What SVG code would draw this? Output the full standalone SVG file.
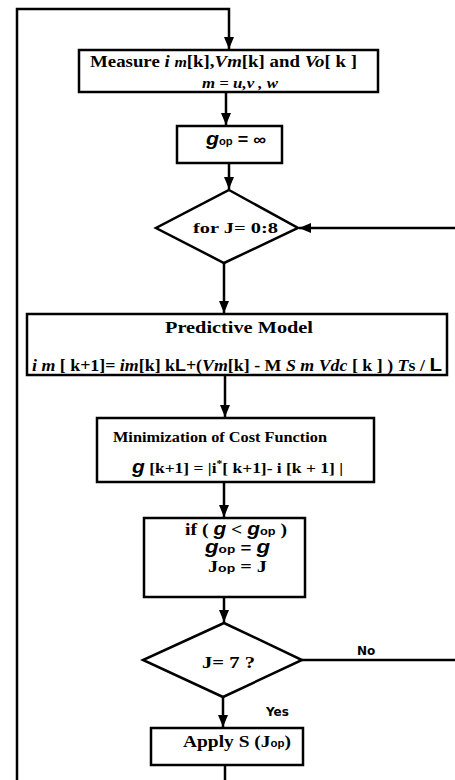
<svg xmlns="http://www.w3.org/2000/svg" width="455" height="780" viewBox="0 0 455 780">
<style>
.box{fill:#fff;stroke:#000;stroke-width:2.5}
.ln{fill:none;stroke:#000;stroke-width:2.5}
.s{font-family:"Liberation Serif",serif;font-weight:bold;fill:#000}
.a{font-family:"Liberation Sans",sans-serif;font-weight:bold;fill:#000}
.d{font-family:"DejaVu Sans",sans-serif;font-weight:bold;fill:#000}
.gi{font-family:"Liberation Sans",sans-serif;font-weight:bold;font-style:italic}
.it{font-style:italic}
</style>
<defs>
<marker id="ah" markerUnits="userSpaceOnUse" markerWidth="12" markerHeight="12" refX="12" refY="5" orient="auto">
<path d="M0,0 L12,5 L0,10 Z" fill="#000"/>
</marker>
</defs>
<g id="connectors">
<path class="ln" d="M17,780 V9 H229 V49" marker-end="url(#ah)"/>
<path class="ln" d="M226,92 V125" marker-end="url(#ah)"/>
<path class="ln" d="M229,163 V189" marker-end="url(#ah)"/>
<path class="ln" d="M455,228 H299" marker-end="url(#ah)"/>
<path class="ln" d="M224,263 V313" marker-end="url(#ah)"/>
<path class="ln" d="M225,375 V417" marker-end="url(#ah)"/>
<path class="ln" d="M224,482 V517" marker-end="url(#ah)"/>
<path class="ln" d="M224,597 V622" marker-end="url(#ah)"/>
<path class="ln" d="M302,660 H455"/>
<path class="ln" d="M223,697 V727" marker-end="url(#ah)"/>
<path class="ln" d="M225,765 V780"/>
<text class="d" x="357" y="655" font-size="12">No</text>
<text class="d" x="266" y="716" font-size="12">Yes</text>
</g>
<g id="measure">
<rect class="box" x="79" y="50" width="299" height="42"/>
<text class="s" x="90" y="67" font-size="16.5" textLength="267" lengthAdjust="spacingAndGlyphs">Measure <tspan class="it">i</tspan> <tspan class="it" font-size="14">m</tspan>[k],<tspan class="it">Vm</tspan>[k] and <tspan class="it">Vo</tspan>[ k ]</text>
<text class="s it" x="202" y="88" font-size="14" textLength="76" lengthAdjust="spacingAndGlyphs">m = u,v , w</text>
</g>
<g id="init">
<rect class="box" x="177" y="126" width="105" height="37"/>
<text class="a" x="206" y="145" font-size="16" textLength="60" lengthAdjust="spacingAndGlyphs"><tspan class="gi" font-size="19">g</tspan><tspan font-size="10">op</tspan>  = ∞</text>
</g>
<g id="forloop">
<polygon class="box" points="229,190 298,228 224,263 156,228"/>
<text class="s" x="193" y="233" font-size="15" textLength="85" lengthAdjust="spacingAndGlyphs">for  J=  0:8</text>
</g>
<g id="predictive">
<rect class="box" x="27" y="314" width="420" height="61"/>
<text class="s" x="165" y="333" font-size="17" textLength="148" lengthAdjust="spacingAndGlyphs">Predictive Model</text>
<text class="s" x="32" y="371" font-size="16.5" textLength="410" lengthAdjust="spacingAndGlyphs"><tspan class="it">i m</tspan> [ k+1]= <tspan class="it">im</tspan>[k] k<tspan class="a">L</tspan>+(<tspan class="it">Vm</tspan>[k] - M <tspan class="it">S m Vdc</tspan> [ k ] ) <tspan class="it">T</tspan>s / <tspan class="a" font-size="19">L</tspan></text>
</g>
<g id="cost">
<rect class="box" x="97" y="418" width="277" height="64"/>
<text class="s" x="113" y="442" font-size="15" textLength="214" lengthAdjust="spacingAndGlyphs">Minimization of Cost Function</text>
<text class="s" x="132" y="473" font-size="15" textLength="211" lengthAdjust="spacingAndGlyphs"><tspan class="gi" font-size="18">g</tspan> [k+1] = |i<tspan dy="-6" font-size="10">*</tspan><tspan dy="6">[ k+1]- i [k + 1] |</tspan></text>
</g>
<g id="compare">
<rect class="box" x="144" y="518" width="161" height="79"/>
<text class="s" x="185" y="535" font-size="17" textLength="102" lengthAdjust="spacingAndGlyphs">if ( <tspan class="gi" font-size="18">g</tspan> &lt; <tspan class="gi" font-size="18">g</tspan><tspan class="a" font-size="11">op</tspan> )</text>
<text class="a" x="205" y="553" font-size="15" textLength="65" lengthAdjust="spacingAndGlyphs"><tspan class="gi" font-size="18">g</tspan><tspan font-size="11">op</tspan> = <tspan class="gi" font-size="18">g</tspan></text>
<text class="s" x="208" y="572" font-size="16" textLength="59" lengthAdjust="spacingAndGlyphs">J<tspan class="a" font-size="11">op</tspan>  = J</text>
</g>
<g id="check">
<polygon class="box" points="224,623 302,660 223,697 143,660"/>
<text class="s" x="202" y="668" font-size="17" textLength="53" lengthAdjust="spacingAndGlyphs">J= 7  ?</text>
</g>
<g id="apply">
<rect class="box" x="151" y="728" width="152" height="37"/>
<text class="s" x="183" y="747" font-size="17" textLength="108" lengthAdjust="spacingAndGlyphs">Apply S (J<tspan class="a" font-size="10">op</tspan>)</text>
</g>
</svg>
